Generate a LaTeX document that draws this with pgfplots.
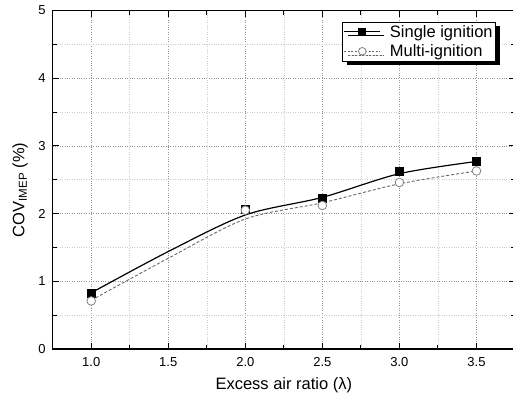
\documentclass[border=0pt]{standalone}
\usepackage{pgfplots}
\pgfplotsset{compat=1.18}
\usepackage{fontspec}
\setmainfont{Liberation Sans}
\usetikzlibrary{shadows}
\begin{document}
\begin{tikzpicture}
\begin{axis}[
  at={(0,0)}, anchor=south west,
  scale only axis,
  width=462.3pt, height=338.5pt,
  xmin=0.75, xmax=3.75, ymin=0, ymax=5,
  xtick={1,1.5,2,2.5,3,3.5},
  ytick={0,1,2,3,4,5},
  minor x tick num=1,
  minor y tick num=1,
  tick align=inside,
  major tick length=6pt,
  minor tick length=4pt,
  tick style={line width=1pt, black},
  axis line style={line width=1.3pt},
  grid=both,
  major grid style={dotted, line width=0.8pt, gray!85},
  minor grid style={dotted, line width=0.6pt, gray!40},
  /pgf/number format/assume math mode=true,
  ticklabel style={font=\fontsize{13}{14}\selectfont},
  xticklabel style={/pgf/number format/.cd, fixed, fixed zerofill, precision=1, /tikz/.cd, yshift=-5pt},
  yticklabel style={xshift=-3.5pt},
  xlabel={Excess air ratio (λ)},
  ylabel={COV\textsubscript{IMEP} (\%)},
  label style={font=\fontsize{16.5}{18}\selectfont},
  xlabel style={at={(axis description cs:0.5,0)}, anchor=center, yshift=-36pt},
  ylabel style={at={(axis description cs:-0.0707,0.47)}, anchor=center, rotate=0},
  legend style={at={(axis description cs:0.959,0.967)}, anchor=north east,
    font=\fontsize{16.5}{18}\selectfont, draw=black, line width=0.8pt,
    fill=white, inner sep=1pt, row sep=2pt,
    /tikz/every odd column/.append style={column sep=7pt},
    drop shadow={shadow xshift=4pt, shadow yshift=-4pt, fill=black, opacity=1}},
  legend cell align=left,
  legend image code/.code={\draw[mark repeat=2,mark phase=2,#1] plot coordinates {(0pt,0pt)(18pt,0pt)(36pt,0pt)};},
]
% fitted curves
\addplot[black, line width=1.2pt, smooth, forget plot] coordinates {
  (1.0,0.83) (1.5,1.44) (2.0,1.98) (2.5,2.24) (3.0,2.59) (3.5,2.77)};
\addplot[gray!80!black, line width=0.9pt, dash pattern=on 3pt off 2pt, smooth, forget plot] coordinates {
  (1.0,0.72) (1.5,1.34) (2.0,1.92) (2.5,2.16) (3.0,2.44) (3.5,2.63)};
% data points
\addplot[only marks, mark=square*, mark size=4pt, black, forget plot] coordinates {
  (1.0,0.83) (2.0,2.07) (2.5,2.23) (3.0,2.63) (3.5,2.78)};
\addplot[only marks, mark=*, mark size=4.3pt, draw=gray, fill=white, line width=0.8pt, forget plot] coordinates {
  (1.0,0.71) (2.0,2.05) (2.5,2.12) (3.0,2.46) (3.5,2.63)};
\addlegendimage{black, line width=1.2pt, mark=square*, mark size=3.5pt}
\addlegendentry{Single ignition}
\addlegendimage{gray!80!black, line width=0.8pt, dash pattern=on 2pt off 1.5pt, mark=*, mark size=3.8pt, mark options={solid, draw=gray, fill=white}}
\addlegendentry{Multi-ignition}
\end{axis}
\pgfresetboundingbox
\path[use as bounding box] (-52.7pt,-50pt) rectangle (460.3pt,349pt);
\end{tikzpicture}
\end{document}
